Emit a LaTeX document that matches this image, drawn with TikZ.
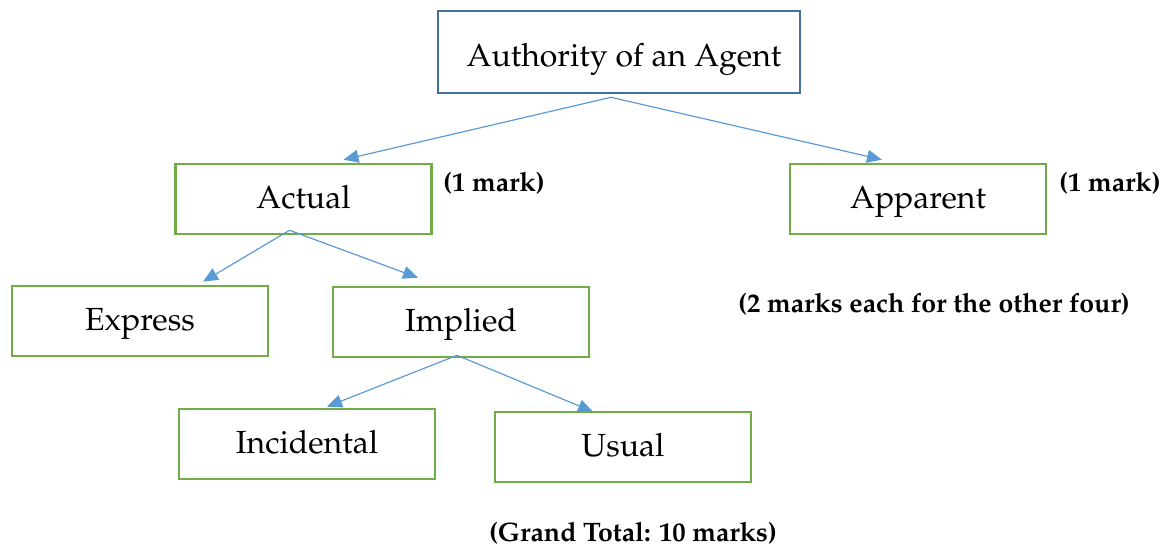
\documentclass[tikz,border=0pt]{standalone}
\usepackage[T1]{fontenc}
\renewcommand{\rmdefault}{ppl}
\usetikzlibrary{arrows.meta,calc}
\definecolor{boxblue}{HTML}{41719C}
\definecolor{boxgreen}{HTML}{70AD47}
\definecolor{arrowblue}{HTML}{5B9BD5}
\begin{document}
\begin{tikzpicture}[x=1pt,y=-1pt,
  topbox/.style={draw=boxblue,line width=2.6pt,minimum width=362pt,minimum height=82pt,inner sep=0pt,text height=34pt,text depth=6pt,font=\fontsize{32}{38}\selectfont},
  gbox/.style={draw=boxgreen,line width=2.6pt,minimum width=256pt,minimum height=70pt,inner sep=0pt,text height=26pt,text depth=8pt,font=\fontsize{32}{38}\selectfont},
  conn/.style={draw=arrowblue,line width=1.2pt,-{Triangle[length=15pt,width=13pt]}},
  marklbl/.style={font=\fontsize{26.7}{32}\selectfont\bfseries,inner sep=0pt}]
\useasboundingbox (0,0) rectangle (1164,546);
\node[topbox] (auth) at (619,52) {\hspace*{10pt}Authority of an Agent};
\node[gbox] (actual) at (303.5,199) {Actual};
\node[gbox] (apparent) at (918,199) {Apparent};
\node[gbox] (express) at (140,321) {Express};
\node[gbox] (implied) at (461,322) {Implied};
\node[gbox] (incidental) at (307,444) {Incidental};
\node[gbox] (usual) at (623,447) {Usual};
\node[marklbl] (m1) at (494,183) {(1 mark)};
\node[marklbl] (m2) at (1110,183) {(1 mark)};
\node[marklbl] (m3) at (934,304) {(2 marks each for the other four)};
\node[marklbl] (m4) at (633,533) {(Grand Total: 10 marks)};
\draw[conn] ($(auth.south)+(-8,3)$) -- ($(actual.north)+(40,-3)$);
\draw[conn] ($(auth.south)+(-8,3)$) -- ($(apparent.north)+(-36,-3)$);
\draw[conn] ($(actual.south)+(-14,-5)$) -- ($(express.north)+(63,-3)$);
\draw[conn] ($(actual.south)+(-14,-5)$) -- ($(implied.north)+(-43,-8)$);
\draw[conn] ($(implied.south)+(-4,-3)$) -- ($(incidental.north)+(20,-1)$);
\draw[conn] ($(implied.south)+(-4,-3)$) -- ($(usual.north)+(-30,1)$);
\end{tikzpicture}
\end{document}
